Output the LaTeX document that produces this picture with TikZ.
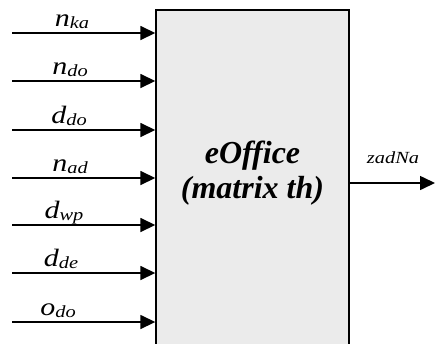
\documentclass[tikz,border=0pt]{standalone}
\usepackage{fontspec}
\setmainfont{Liberation Serif}[
  UprightFont={Liberation Serif},
  ItalicFont={Liberation Serif Italic},
  BoldFont={Liberation Serif Bold},
  BoldItalicFont={Liberation Serif Bold Italic}]
\newfontfamily\sigfont{Liberation Serif Italic}[FakeStretch=1.2]
\newfontfamily\titlefont{Liberation Serif Bold Italic}
\usetikzlibrary{arrows.meta}

% signal name with a lowered subscript
\newcommand{\sig}[2]{{\sigfont\fontsize{25}{25}\selectfont #1\raisebox{-2pt}{\fontsize{17}{17}\selectfont #2}}}

\tikzset{
  flow/.style={line width=1.6pt, -{Triangle[length=15pt,width=14pt]}},
  sigl/.style={anchor=base, inner sep=0pt},
  block/.style={draw, line width=1.4pt, fill=black!8, minimum width=193pt, minimum height=360pt, inner sep=0pt}
}

\begin{document}
\begin{tikzpicture}[x=1pt,y=-1pt]
\useasboundingbox (0,0) rectangle (435,343);

% central block (runs past the lower edge)
\node[block] (box) at (252.5,190) {};
\node[align=center, font=\titlefont\fontsize{32}{35}\selectfont] (title) at (252.5,173) {eOffice\\(matrix th)};

% input signals
\foreach \n/\y/\lx/\a/\b in {1/33/72/n/ka, 2/81/70/n/do, 3/130/69/d/do, 4/178/70/n/ad, 5/225/64/d/wp, 6/273/61/d/de, 7/322/58/o/do}{
  \coordinate (in\n) at (12,\y);
  \node[sigl] (lab\n) at (\lx,\y-6.5) {\sig{\a}{\b}};
  \draw[flow] (in\n) -- (in\n -| box.west);
}

% output signal
\coordinate (out) at (435,183);
\draw[flow] (out -| box.east) -- (out);
\node[sigl] (outlab) at (393,163) {\sigfont\fontsize{17}{17}\selectfont zadNa};
\end{tikzpicture}
\end{document}
